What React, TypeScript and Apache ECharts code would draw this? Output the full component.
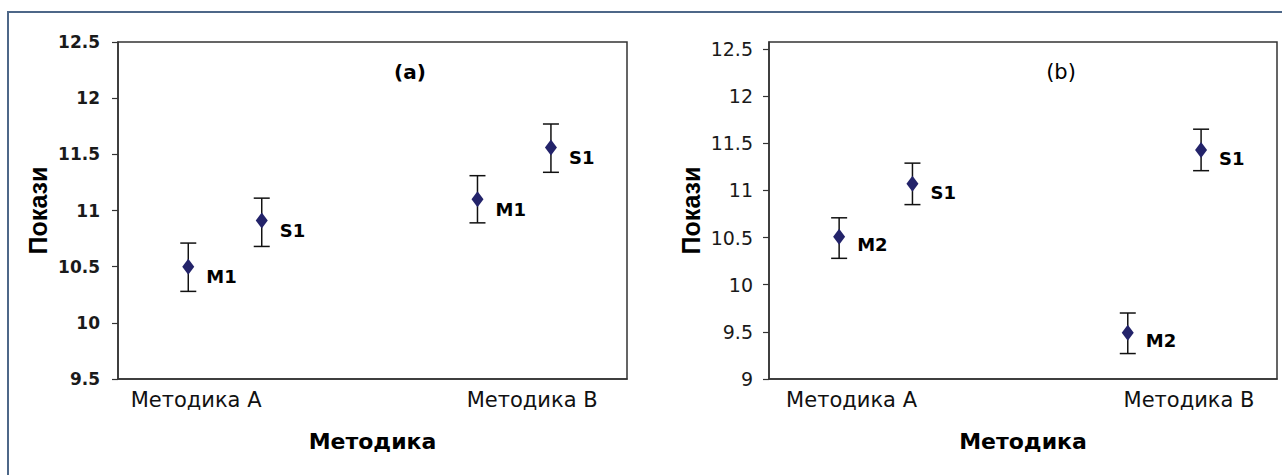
import React, { useEffect, useRef } from "react";
import * as echarts from "echarts";

// ---- data ----
const categories = ["Методика А", "Методика В"];
const xAxisTitle = "Методика";
const yAxisTitle = "Покази";
const panelLabels = ["(a)", "(b)"];

// panel (a)
const aM1Mean = [10.5, 11.1];
const aM1Upper = [10.71, 11.31];
const aM1Lower = [10.28, 10.89];
const aS1Mean = [10.91, 11.56];
const aS1Upper = [11.11, 11.77];
const aS1Lower = [10.68, 11.34];

// panel (b)
const bM2Mean = [10.51, 9.49];
const bM2Upper = [10.71, 9.7];
const bM2Lower = [10.28, 9.27];
const bS1Mean = [11.07, 11.43];
const bS1Upper = [11.29, 11.65];
const bS1Lower = [10.85, 11.21];

const yTicksA = [9.5, 10, 10.5, 11, 11.5, 12, 12.5];
const yTicksB = [9, 9.5, 10, 10.5, 11, 11.5, 12, 12.5];

// ---- styling / layout ----
const DODGE = 0.127;
const AXIS_COLOR = "#333333";
const MARKER_COLOR = "#23236a";

function pointSeries(name: string, mean: number[], dodge: number, idx: number, offY: number) {
  return {
    type: "scatter",
    name,
    xAxisIndex: idx,
    yAxisIndex: idx,
    symbol: "diamond",
    symbolSize: [12, 16],
    itemStyle: { color: MARKER_COLOR, opacity: 1 },
    data: mean.map((v, i) => [i + dodge, v]),
    label: {
      show: true,
      position: "right",
      distance: 12,
      offset: [0, offY],
      formatter: name,
      fontFamily: "DejaVu Sans",
      fontWeight: "bold",
      fontSize: 18,
      color: "#000",
    },
    z: 3,
  };
}

function errorSeries(upper: number[], lower: number[], dodge: number, idx: number) {
  return {
    type: "custom",
    xAxisIndex: idx,
    yAxisIndex: idx,
    data: upper.map((u, i) => [i + dodge, u, lower[i]]),
    encode: { x: 0, y: [1, 2] },
    renderItem: (params: any, api: any) => {
      const x = api.value(0);
      const top = api.coord([x, api.value(1)]);
      const bot = api.coord([x, api.value(2)]);
      const w = 8;
      const style = { stroke: "#111", lineWidth: 1.5, fill: null };
      return {
        type: "group",
        children: [
          { type: "line", shape: { x1: top[0], y1: top[1], x2: bot[0], y2: bot[1] }, style },
          { type: "line", shape: { x1: top[0] - w, y1: top[1], x2: top[0] + w, y2: top[1] }, style },
          { type: "line", shape: { x1: bot[0] - w, y1: bot[1], x2: bot[0] + w, y2: bot[1] }, style },
        ],
      };
    },
    z: 2,
  };
}

function xAxisCfg(idx: number, labelPos: number[]) {
  return {
    type: "value",
    gridIndex: idx,
    min: -0.37,
    max: 1.39,
    axisLine: { show: true, onZero: false, lineStyle: { color: AXIS_COLOR, width: 1.5 } },
    axisTick: { show: false },
    splitLine: { show: false },
    axisLabel: {
      customValues: labelPos,
      formatter: (v: number) => categories[Math.abs(Math.round(v))],
      margin: 10,
      fontFamily: "DejaVu Sans",
      fontSize: 21,
      color: "#111",
    },
    name: xAxisTitle,
    nameLocation: "middle",
    nameGap: 51,
    nameTextStyle: { fontFamily: "DejaVu Sans", fontWeight: "bold", fontSize: 22, color: "#000" },
  };
}

function yAxisCfg(idx: number, ticks: number[], min: number, max: number, bold: boolean, nameGap: number, nameSize: number, labelSize: number, margin: number) {
  return {
    type: "value",
    gridIndex: idx,
    min,
    max,
    interval: 0.5,
    axisLine: { show: true, onZero: false, lineStyle: { color: AXIS_COLOR, width: 1.5 } },
    axisTick: { show: true, customValues: ticks, length: 6, lineStyle: { color: AXIS_COLOR, width: 1.2 } },
    splitLine: { show: false },
    axisLabel: {
      customValues: ticks,
      formatter: (v: number) => String(v),
      margin,
      fontFamily: "DejaVu Sans",
      fontWeight: bold ? "bold" : "normal",
      fontSize: labelSize,
      color: "#1a1a1a",
    },
    name: yAxisTitle,
    nameLocation: "middle",
    nameGap,
    nameTextStyle: { fontFamily: "Liberation Sans", fontWeight: "bold", fontSize: nameSize, color: "#000" },
  };
}

export default function App() {
  const ref = useRef<HTMLDivElement>(null);
  useEffect(() => {
    document.body.style.margin = "0";
    document.body.style.overflow = "hidden";
    if (!ref.current) return;
    const chart = echarts.init(ref.current, null, { renderer: "svg" });
    chart.setOption({
      animation: false,
      backgroundColor: "#ffffff",
      grid: [
        { left: 118, top: 42, width: 509, height: 337, show: true, borderColor: AXIS_COLOR, borderWidth: 1.5, containLabel: false },
        { left: 769, top: 42, width: 508, height: 337, show: true, borderColor: AXIS_COLOR, borderWidth: 1.5, containLabel: false },
      ],
      xAxis: [xAxisCfg(0, [-0.1, 1.062]), xAxisCfg(1, [-0.084, 1.085])],
      yAxis: [
        yAxisCfg(0, yTicksA, 9.5, 12.5, true, 68, 25, 17, 18),
        yAxisCfg(1, yTicksB, 9, 12.575, false, 66, 25, 19, 16),
      ],
      graphic: [
        {
          type: "rect",
          shape: { x: 8, y: 12, width: 1400, height: 600 },
          style: { fill: "none", stroke: "#4d6788", lineWidth: 2 },
          silent: true,
          z: 0,
        },
        {
          type: "text",
          x: 410,
          y: 72,
          style: { text: panelLabels[0], fontFamily: "DejaVu Sans", fontWeight: "bold", fontSize: 20, fill: "#000", align: "center", verticalAlign: "middle" },
        },
        {
          type: "text",
          x: 1061,
          y: 72,
          style: { text: panelLabels[1], fontFamily: "DejaVu Sans", fontSize: 21, fill: "#000", align: "center", verticalAlign: "middle" },
        },
      ],
      series: [
        errorSeries(aM1Upper, aM1Lower, -DODGE, 0),
        errorSeries(aS1Upper, aS1Lower, DODGE, 0),
        pointSeries("M1", aM1Mean, -DODGE, 0, 10),
        pointSeries("S1", aS1Mean, DODGE, 0, 10),
        errorSeries(bM2Upper, bM2Lower, -DODGE, 1),
        errorSeries(bS1Upper, bS1Lower, DODGE, 1),
        pointSeries("M2", bM2Mean, -DODGE, 1, 8),
        pointSeries("S1", bS1Mean, DODGE, 1, 9),
      ],
    });
    return () => chart.dispose();
  }, []);
  return <div ref={ref} style={{ width: "1282px", height: "475px" }} />;
}
